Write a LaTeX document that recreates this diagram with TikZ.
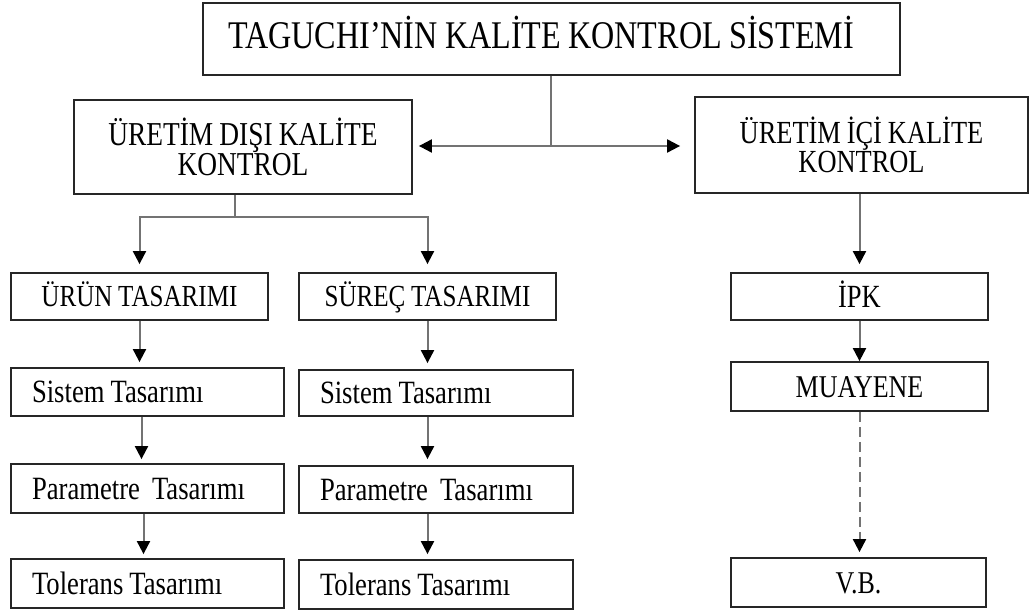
\documentclass[tikz,border=0pt]{standalone}
\usepackage{fontspec}
\setmainfont{Liberation Serif}[FakeStretch=0.82, WordSpace=0.9]
\usetikzlibrary{arrows.meta}
\begin{document}
\begin{tikzpicture}[x=1pt,y=-1pt,
  bx/.style={draw=black!85, line width=1.8pt, rectangle, inner sep=0pt, align=center, fill=white},
  one/.style={text height=#1, text depth=0pt},
  lbx/.style={bx, one=21.2pt, align=flush left, inner xsep=21pt, inner ysep=0pt, font=\fontsize{32.5}{34}\selectfont},
  conn/.style={draw=black!55, line width=2pt},
  tip/.tip={Triangle[width=13pt,length=13pt,color=black]},
  arr/.style={conn, -tip},
  dbl/.style={conn, tip-tip},
  ]
\useasboundingbox (0,0) rectangle (1030,612);
% top
\node[bx, minimum height=72pt, text width=647pt, align=flush left, inner xsep=25pt,
      text height=25.5pt, text depth=6pt,
      font=\fontsize{39.2}{41}\selectfont] (top) at (551.5,39) {TAGUCHI’NİN KALİTE KONTROL SİSTEMİ};
% second level
\node[bx, minimum width=338pt, minimum height=94pt, font=\fontsize{33.4}{28}\selectfont] (left) at (243,147)
  {ÜRETİM DIŞI KALİTE\\KONTROL};
\node[bx, minimum width=333pt, minimum height=96pt, font=\fontsize{32.2}{28}\selectfont] (right) at (861.5,145)
  {ÜRETİM İÇİ KALİTE\\KONTROL};
% third level
\node[bx, one=20pt, minimum width=257pt, minimum height=47pt, font=\fontsize{30.6}{32}\selectfont] (urun) at (139.5,296.5) {ÜRÜN TASARIMI};
\node[bx, one=20pt, minimum width=257pt, minimum height=47pt, font=\fontsize{30.6}{32}\selectfont] (surec) at (427.5,296.5) {SÜREÇ TASARIMI};
\node[bx, one=21pt, minimum width=257pt, minimum height=47pt, font=\fontsize{32.3}{34}\selectfont] (ipk) at (859.5,296.5) {İPK};
% left column
\node[lbx, text width=231pt, minimum height=48pt] (sisL) at (147.5,392) {Sistem Tasarımı};
\node[lbx, text width=231pt, minimum height=49pt] (parL) at (147.5,488.5) {Parametre\ \ Tasarımı};
\node[lbx, text width=231pt, minimum height=49pt] (tolL) at (147.5,583.5) {Tolerans Tasarımı};
% middle column
\node[lbx, text width=232pt, minimum height=46pt] (sisR) at (436,393) {Sistem Tasarımı};
\node[lbx, text width=232pt, minimum height=47pt] (parR) at (436,489.5) {Parametre\ \ Tasarımı};
\node[lbx, text width=232pt, minimum height=49pt] (tolR) at (436,584.5) {Tolerans Tasarımı};
% right column
\node[bx, one=21pt, minimum width=257pt, minimum height=49pt, font=\fontsize{31.7}{34}\selectfont] (muay) at (859.5,386.5) {MUAYENE};
\node[bx, one=21pt, minimum width=255pt, minimum height=49pt, font=\fontsize{31.7}{34}\selectfont] (vb) at (858.5,582.5) {V.B.};
% connectors top
\coordinate (j) at (551,146);
\draw[conn] (top.south -| j) -- (j);
\draw[dbl] ([xshift=6pt]left.east |- j) -- ([xshift=-14pt]right.west |- j);
% left branch
\coordinate (lb) at (235,217);
\draw[conn] (lb |- left.south) -- (lb);
\draw[arr, shorten >=8pt] (lb) -| (urun.north);
\draw[arr, shorten >=8pt] (lb) -| (surec.north);
% right branch
\draw[arr, shorten >=8pt] (ipk.north |- right.south) -- (ipk.north);
% columns
\draw[arr, shorten >=5pt] (urun.south) -- (urun.south |- sisL.north);
\draw[arr, shorten >=4pt] ([xshift=2pt]urun.south |- sisL.south) -- ([xshift=2pt]urun.south |- parL.north);
\draw[arr, shorten >=4pt] ([xshift=4pt]urun.south |- parL.south) -- ([xshift=4pt]urun.south |- tolL.north);
\draw[arr, shorten >=6pt] (surec.south) -- (surec.south |- sisR.north);
\draw[arr, shorten >=6pt] (surec.south |- sisR.south) -- (surec.south |- parR.north);
\draw[arr, shorten >=5pt] (surec.south |- parR.south) -- (surec.south |- tolR.north);
\draw[arr] (ipk.south) -- (muay.north);
\draw[arr, dash pattern=on 10pt off 5pt, shorten >=5pt] (muay.south) -- (muay.south |- vb.north);
\end{tikzpicture}
\end{document}
